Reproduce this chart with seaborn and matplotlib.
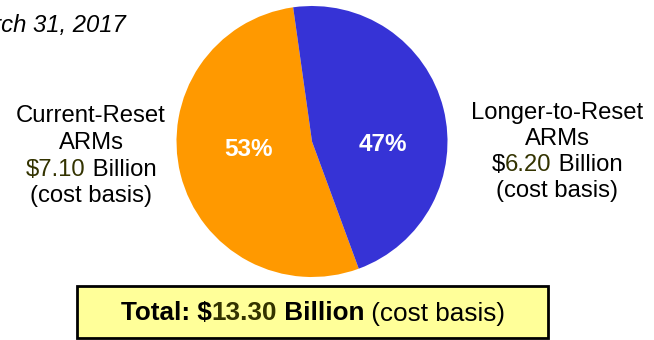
import matplotlib
matplotlib.use('Agg')
import matplotlib.pyplot as plt
import seaborn as sns
from matplotlib.patches import Rectangle

# ---- data ----
categories = ['Current-Reset ARMs', 'Longer-to-Reset ARMs']
values = [7.10, 6.20]
value_labels = ['$7.10', '$6.20']
pct_labels = ['53%', '47%']
colors = ['#FF9900', '#3633D6']
title = 'As of March 31, 2017'
total_label = '$13.30'

sns.set_theme(style='white')
plt.rcParams['font.family'] = ['Liberation Sans', 'DejaVu Sans']

W, H = 654, 340
fig = plt.figure(figsize=(W / 100, H / 100), dpi=100)
fig.patch.set_facecolor('white')

# overlay axes in pixel coordinates
ov = fig.add_axes([0, 0, 1, 1])
ov.set_xlim(0, W)
ov.set_ylim(H, 0)
ov.axis('off')

# pie axes
cx, cy, r = 312, 141.5, 135.5
pax = fig.add_axes([(cx - r) / W, (H - cy - r) / H, 2 * r / W, 2 * r / H])
pax.pie(values, colors=colors, startangle=98, counterclock=True, radius=1,
        wedgeprops=dict(linewidth=0))
pax.set_xlim(-1, 1)
pax.set_ylim(-1, 1)
pax.axis('off')

pct_pos = [(-0.472, -0.107), (0.52, -0.070)]
for lab, (x, y) in zip(pct_labels, pct_pos):
    pax.text(x, y, lab, color='white', fontsize=17.5, fontweight='bold',
             ha='center', va='baseline')

renderer = fig.canvas.get_renderer()
OLIVE = '#333300'
FS = 17.2


def line(segs, xc, base, size=FS):
    texts = []
    for s, color, weight, style in segs:
        t = ov.text(0, base, s, color=color, fontsize=size, fontweight=weight,
                    fontstyle=style, va='baseline', ha='left')
        texts.append(t)
    widths = [t.get_window_extent(renderer).width for t in texts]
    x = xc - sum(widths) / 2
    for t, w in zip(texts, widths):
        t.set_x(x)
        x += w


# title (clipped at left edge, as in the original)
ov.text(126, 32, title, fontsize=FS, fontstyle='italic', ha='right',
        va='baseline', color='black')

# left label
lx = 91
line([('Current-Reset', 'black', 'normal', 'normal')], lx, 122)
line([('ARMs', 'black', 'normal', 'normal')], lx, 149)
line([(value_labels[0], OLIVE, 'normal', 'normal'),
      (' Billion', 'black', 'normal', 'normal')], lx, 175.5)
line([('(cost basis)', 'black', 'normal', 'normal')], lx, 202)

# right label
rx = 557
line([('Longer-to-Reset', 'black', 'normal', 'normal')], rx, 119)
line([('ARMs', 'black', 'normal', 'normal')], rx, 145)
line([('$', 'black', 'normal', 'normal'),
      (value_labels[1][1:], OLIVE, 'normal', 'normal'),
      (' Billion', 'black', 'normal', 'normal')], rx, 171)
line([('(cost basis)', 'black', 'normal', 'normal')], rx, 197)

# total box
ov.add_patch(Rectangle((77, 286), 471, 52, facecolor='#FFFF99',
                       edgecolor='black', linewidth=2))
line([('Total: $', 'black', 'bold', 'normal'),
      (total_label[1:], OLIVE, 'bold', 'normal'),
      (' Billion', 'black', 'bold', 'normal'),
      (' (cost basis)', 'black', 'normal', 'normal')], 313, 320.5, size=18.8)

fig.savefig('out.png', dpi=100, facecolor='white')
